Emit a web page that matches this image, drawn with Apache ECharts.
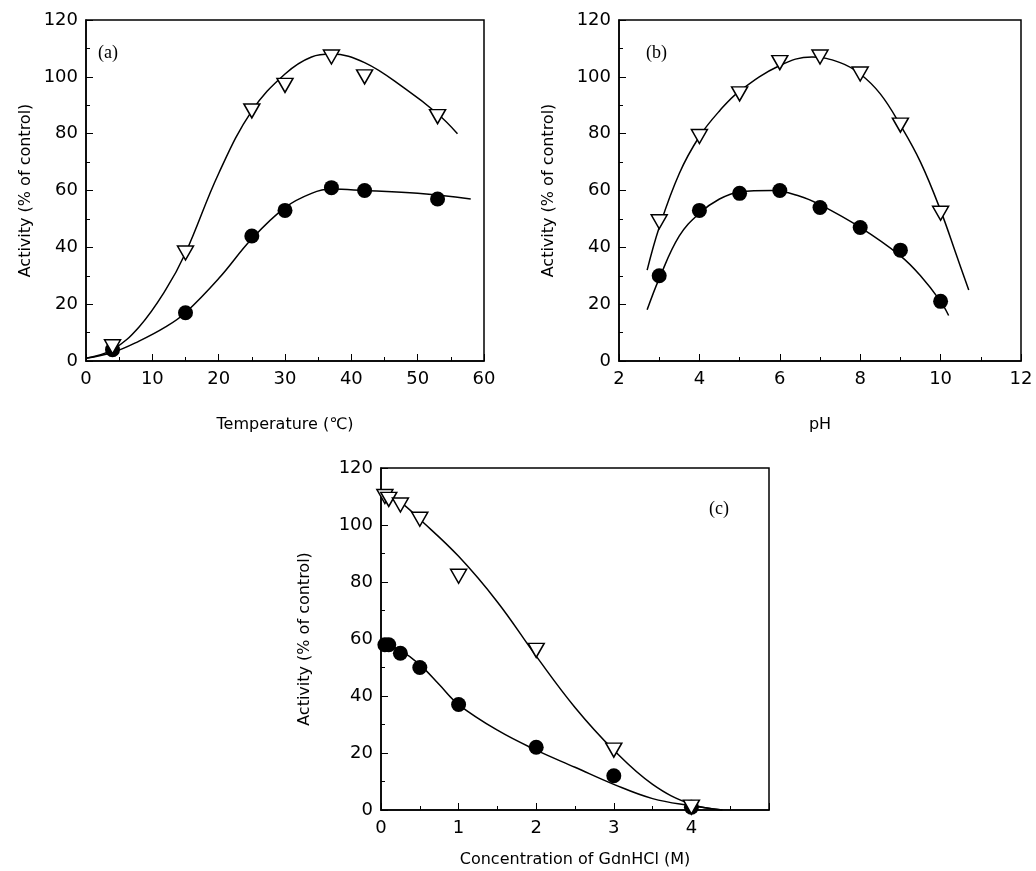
<!DOCTYPE html>
<html><head><meta charset="utf-8">
<script src="https://cdn.jsdelivr.net/npm/echarts@6/dist/echarts.min.js"></script>
<style>body{margin:0;background:#fff}#c{width:1036px;height:871px}</style>
</head><body><div id="c"></div>
<script>
// (a) temperature
var aTri = [[4,5],[15,38],[25,88],[30,97],[37,107],[42,100],[53,86]];
var aDot = [[4,4],[15,17],[25,44],[30,53],[37,61],[42,60],[53,57]];
var aTriFit = [[0,1],[4,4],[8,12],[12,25],[15,38],[20,66],[25,88],[30,101],[34,107],[37,108],[42,105],[48,96],[53,87],[56,80]];
var aDotFit = [[0,1],[4,3],[8,7],[12,12],[15,17],[20,29],[25,43],[30,54],[34,59],[37,60.5],[42,60],[50,59],[58,57]];
// (b) pH
var bTri = [[3,49],[4,79],[5,94],[6,105],[7,107],[8,101],[9,83],[10,52]];
var bDot = [[3,30],[4,53],[5,59],[6,60],[7,54],[8,47],[9,39],[10,21]];
var bTriFit = [[2.7,32],[3,47],[3.5,66],[4,79],[4.5,88],[5,95],[6,104],[6.8,107],[7.5,105],[8,101],[8.5,94],[9,83],[9.5,70],[10,53],[10.4,37],[10.7,25]];
var bDotFit = [[2.7,18],[3,29],[3.5,44],[4,52],[4.5,57],[5,59.5],[5.8,60],[6.5,58],[7,55],[8,47],[9,37],[9.5,30],[10,21],[10.2,16]];
// (c) GdnHCl
var cTri = [[0.05,110],[0.1,109],[0.25,107],[0.5,102],[1,82],[2,56],[3,21],[4,1]];
var cDot = [[0.05,58],[0.1,58],[0.25,55],[0.5,50],[1,37],[2,22],[3,12],[4,1]];
var cTriFit = [[0,112],[0.25,108],[0.5,102],[1,89],[1.5,73],[2,54],[2.5,36],[3,21],[3.5,9],[4,2],[4.4,0]];
var cDotFit = [[0,59],[0.25,56],[0.5,51],[0.75,44],[1,37],[1.5,28],[2,21],[2.5,15],[3,9],[3.5,4],[4,1.5],[4.4,0]];

var font = 'DejaVu Sans';
var grids = [
  {left:86, top:20, width:398, height:341},
  {left:619, top:20, width:402, height:341},
  {left:381, top:468, width:388, height:342}
];
grids.forEach(function(g){ g.show = true; g.borderColor = '#000'; g.borderWidth = 1.5; });

function xAxis(i, min, max, itv, name, gap){
  return {gridIndex:i, type:'value', min:min, max:max, interval:itv, name:name, nameLocation:'middle', nameGap:gap,
    nameTextStyle:{fontFamily:font, fontSize:16, color:'#000'},
    axisLine:{lineStyle:{color:'#000', width:1.5}}, axisTick:{inside:true, length:7, lineStyle:{color:'#000'}},
    minorTick:{show:true, splitNumber:2, length:4, lineStyle:{color:'#000'}},
    axisLabel:{fontFamily:font, fontSize:18, color:'#000', margin:9, formatter:function(v){return (i===2&&v>4)?'':v;}},
    splitLine:{show:false}};
}
function yAxis(i, gap){
  return {gridIndex:i, type:'value', min:0, max:120, interval:20, name:'Activity (% of control)', nameLocation:'middle', nameGap:gap,
    nameTextStyle:{fontFamily:font, fontSize:16, color:'#000'},
    axisLine:{lineStyle:{color:'#000', width:1.5}}, axisTick:{inside:true, length:7, lineStyle:{color:'#000'}},
    minorTick:{show:true, splitNumber:2, length:4, lineStyle:{color:'#000'}},
    axisLabel:{fontFamily:font, fontSize:18, color:'#000'}, splitLine:{show:false}};
}
var tri = 'path://M0,0 L10,0 L5,9 Z';
function sets(i, tr, dt, trf, dtf){
  return [
    {type:'line', xAxisIndex:i, yAxisIndex:i, data:trf, smooth:0.4, showSymbol:false, lineStyle:{color:'#000', width:1.5}, z:2},
    {type:'line', xAxisIndex:i, yAxisIndex:i, data:dtf, smooth:0.4, showSymbol:false, lineStyle:{color:'#000', width:1.5}, z:2},
    {type:'scatter', xAxisIndex:i, yAxisIndex:i, data:dt, symbol:'circle', symbolSize:15, itemStyle:{color:'#000', opacity:1}, z:3},
    {type:'scatter', xAxisIndex:i, yAxisIndex:i, data:tr, symbol:tri, symbolSize:[16,14], itemStyle:{color:'#fff', borderColor:'#000', borderWidth:1.5, opacity:1}, z:4}
  ];
}
var chart = echarts.init(document.getElementById('c'));
chart.setOption({
  animation:false,
  grid:grids,
  xAxis:[xAxis(0,0,60,10,'Temperature (℃)',56), xAxis(1,2,12,2,'pH',56), xAxis(2,0,5,1,'Concentration of GdnHCl (M)',42)],
  yAxis:[yAxis(0,52), yAxis(1,62), yAxis(2,68)],
  graphic:[
    {type:'text', left:98, top:44, style:{text:'(a)', font:'18px Liberation Serif', fill:'#000'}},
    {type:'text', left:646, top:44, style:{text:'(b)', font:'18px Liberation Serif', fill:'#000'}},
    {type:'text', left:709, top:500, style:{text:'(c)', font:'18px Liberation Serif', fill:'#000'}}
  ],
  series:[].concat(sets(0,aTri,aDot,aTriFit,aDotFit), sets(1,bTri,bDot,bTriFit,bDotFit), sets(2,cTri,cDot,cTriFit,cDotFit))
});
</script></body></html>
